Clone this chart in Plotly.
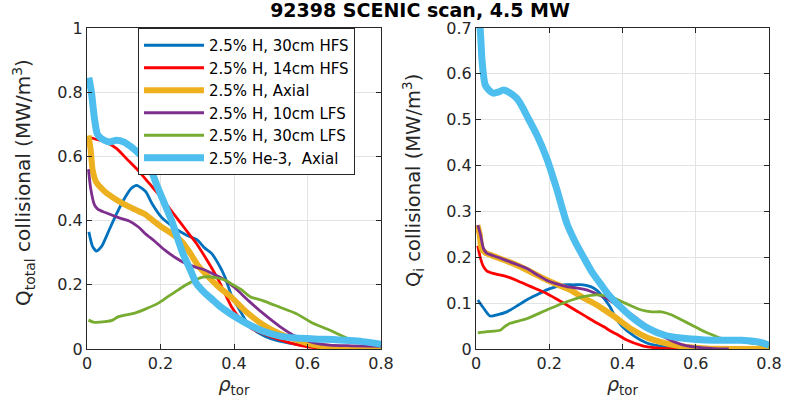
import plotly.graph_objects as go

# ---------------- data ----------------
names = ["2.5% H, 30cm HFS", "2.5% H, 14cm HFS", "2.5% H, Axial",
         "2.5% H, 10cm LFS", "2.5% H, 30cm LFS", "2.5% He-3,  Axial"]

# Left panel: Q_total collisional
rho_L_blue = [0.005, 0.015, 0.026, 0.04, 0.06, 0.08, 0.1, 0.12, 0.135, 0.16, 0.176, 0.203, 0.235, 0.27,
              0.30, 0.32, 0.339, 0.36, 0.375, 0.394, 0.416, 0.44, 0.47, 0.5, 0.55, 0.6, 0.7, 0.8]
q_L_blue = [0.365, 0.32, 0.305, 0.32, 0.37, 0.42, 0.465, 0.50, 0.51, 0.49, 0.455, 0.41, 0.38, 0.355,
            0.34, 0.315, 0.298, 0.26, 0.225, 0.165, 0.12, 0.075, 0.048, 0.032, 0.018, 0.01, 0.005, 0.003]

rho_L_red = [0.005, 0.02, 0.05, 0.08, 0.11, 0.14, 0.17, 0.2, 0.22, 0.25, 0.28, 0.3, 0.33, 0.36, 0.394,
             0.42, 0.45, 0.5, 0.55, 0.6, 0.7, 0.8]
q_L_red = [0.66, 0.655, 0.645, 0.625, 0.59, 0.555, 0.515, 0.475, 0.445, 0.40, 0.355, 0.325, 0.27, 0.21,
           0.13, 0.09, 0.062, 0.038, 0.02, 0.007, 0.001, 0.0]

rho_L_yel = [0.004, 0.01, 0.015, 0.025, 0.049, 0.08, 0.103, 0.13, 0.158, 0.18, 0.203, 0.23, 0.258, 0.28,
             0.302, 0.33, 0.357, 0.394, 0.434, 0.48, 0.52, 0.57, 0.62, 0.7, 0.8]
q_L_yel = [0.665, 0.62, 0.56, 0.52, 0.49, 0.465, 0.45, 0.435, 0.42, 0.40, 0.38, 0.36, 0.335, 0.30,
           0.26, 0.225, 0.195, 0.16, 0.115, 0.075, 0.05, 0.028, 0.012, 0.003, 0.0]

rho_L_pur = [0.004, 0.01, 0.02, 0.03, 0.05, 0.084, 0.112, 0.14, 0.158, 0.185, 0.212, 0.24, 0.267, 0.295,
             0.321, 0.35, 0.375, 0.403, 0.44, 0.48, 0.525, 0.57, 0.615, 0.66, 0.72, 0.8]
q_L_pur = [0.56, 0.5, 0.45, 0.435, 0.425, 0.41, 0.40, 0.38, 0.36, 0.335, 0.308, 0.285, 0.267, 0.255,
           0.246, 0.23, 0.215, 0.19, 0.15, 0.11, 0.07, 0.038, 0.02, 0.012, 0.01, 0.008]

rho_L_grn = [0.004, 0.02, 0.049, 0.07, 0.084, 0.1, 0.13, 0.16, 0.194, 0.22, 0.248, 0.27, 0.294, 0.315,
             0.33, 0.35, 0.375, 0.39, 0.42, 0.444, 0.48, 0.525, 0.57, 0.615, 0.66, 0.707, 0.75, 0.8]
q_L_grn = [0.09, 0.083, 0.085, 0.09, 0.10, 0.105, 0.112, 0.125, 0.143, 0.163, 0.184, 0.20, 0.215, 0.224,
           0.225, 0.222, 0.215, 0.205, 0.185, 0.163, 0.15, 0.13, 0.11, 0.08, 0.059, 0.034, 0.024, 0.015]

rho_L_cyn = [0.005, 0.012, 0.02, 0.028, 0.04, 0.06, 0.08, 0.1, 0.12, 0.14, 0.158, 0.175, 0.19, 0.21, 0.23,
             0.26, 0.28, 0.297, 0.32, 0.34, 0.365, 0.39, 0.434, 0.48, 0.525, 0.57, 0.65, 0.75, 0.8]
q_L_cyn = [0.845, 0.80, 0.72, 0.67, 0.655, 0.645, 0.65, 0.645, 0.63, 0.61, 0.59, 0.555, 0.51, 0.455, 0.40,
           0.30, 0.25, 0.205, 0.175, 0.155, 0.13, 0.11, 0.08, 0.055, 0.04, 0.034, 0.03, 0.023, 0.015]

# Right panel: Q_i collisional
rho_R_blue = [0.005, 0.02, 0.038, 0.06, 0.084, 0.11, 0.138, 0.165, 0.193, 0.215, 0.238, 0.265, 0.293,
              0.313, 0.33, 0.35, 0.366, 0.38, 0.398, 0.434, 0.47, 0.516, 0.56, 0.65, 0.75, 0.8]
q_R_blue = [0.107, 0.09, 0.072, 0.075, 0.081, 0.093, 0.107, 0.118, 0.129, 0.135, 0.14, 0.14, 0.14,
            0.136, 0.128, 0.11, 0.092, 0.07, 0.05, 0.027, 0.012, 0.005, 0.002, 0.001, 0.002, 0.001]

rho_R_red = [0.005, 0.01, 0.02, 0.03, 0.047, 0.084, 0.11, 0.138, 0.165, 0.193, 0.22, 0.248, 0.275, 0.302,
             0.325, 0.348, 0.37, 0.389, 0.41, 0.455, 0.5, 0.6, 0.7, 0.8]
q_R_red = [0.225, 0.205, 0.18, 0.17, 0.165, 0.158, 0.15, 0.14, 0.131, 0.121, 0.109, 0.096, 0.083, 0.07,
           0.059, 0.049, 0.038, 0.03, 0.02, 0.007, 0.002, 0.0, 0.001, 0.0]

rho_R_yel = [0.004, 0.01, 0.015, 0.025, 0.056, 0.09, 0.12, 0.15, 0.184, 0.22, 0.257, 0.29, 0.33, 0.36,
             0.384, 0.425, 0.47, 0.516, 0.56, 0.63, 0.7, 0.8]
q_R_yel = [0.27, 0.25, 0.22, 0.21, 0.20, 0.19, 0.18, 0.168, 0.154, 0.141, 0.129, 0.113, 0.096, 0.08,
           0.067, 0.043, 0.024, 0.013, 0.006, 0.001, 0.0, 0.0]

rho_R_pur = [0.005, 0.012, 0.02, 0.029, 0.06, 0.093, 0.138, 0.165, 0.193, 0.22, 0.248, 0.275, 0.302,
             0.33, 0.357, 0.38, 0.407, 0.44, 0.47, 0.516, 0.56, 0.6, 0.65, 0.69]
q_R_pur = [0.27, 0.25, 0.22, 0.209, 0.2, 0.19, 0.176, 0.163, 0.15, 0.142, 0.136, 0.133, 0.129,
           0.12, 0.11, 0.098, 0.085, 0.066, 0.049, 0.025, 0.01, 0.004, 0.001, 0.0]

rho_R_grn = [0.005, 0.03, 0.066, 0.08, 0.093, 0.138, 0.193, 0.248, 0.293, 0.33, 0.366, 0.407, 0.452,
             0.48, 0.507, 0.535, 0.562, 0.59, 0.616, 0.645, 0.671, 0.725, 0.78, 0.8]
q_R_grn = [0.035, 0.038, 0.041, 0.05, 0.056, 0.066, 0.085, 0.103, 0.114, 0.118, 0.114, 0.1, 0.085,
           0.081, 0.081, 0.074, 0.063, 0.052, 0.041, 0.031, 0.023, 0.016, 0.009, 0.005]

rho_R_cyn = [0.005, 0.011, 0.016, 0.02, 0.025, 0.035, 0.047, 0.06, 0.075, 0.09, 0.111, 0.125, 0.138,
             0.166, 0.193, 0.22, 0.248, 0.27, 0.293, 0.315, 0.339, 0.36, 0.384, 0.425, 0.47, 0.516,
             0.56, 0.65, 0.725, 0.78, 0.8]
q_R_cyn = [0.72, 0.70, 0.634, 0.60, 0.576, 0.565, 0.558, 0.56, 0.565, 0.56, 0.547, 0.53, 0.51,
           0.467, 0.416, 0.35, 0.274, 0.235, 0.201, 0.17, 0.143, 0.12, 0.1, 0.07, 0.045, 0.03,
           0.024, 0.019, 0.019, 0.014, 0.008]

x_ticks = [0, 0.2, 0.4, 0.6, 0.8]
yL_ticks = [0, 0.2, 0.4, 0.6, 0.8, 1]
yR_ticks = [0, 0.1, 0.2, 0.3, 0.4, 0.5, 0.6, 0.7]

title_text = "<b>92398 SCENIC scan, 4.5 MW</b>"
x_title = "<i>\u03c1</i><sub>tor</sub>"
yL_title = "Q<sub>total</sub> collisional (MW/m<sup>3</sup>)"
yR_title = "Q<sub>i</sub> collisional (MW/m<sup>3</sup>)"

# ---------------- styling ----------------
colors = ["#0072BD", "#FF0000", "#EDB120", "#7E2F8E", "#77AC30", "#4DBEEE"]
widths = [2.8, 2.8, 6, 2.8, 2.8, 7]

left = [(rho_L_blue, q_L_blue), (rho_L_red, q_L_red), (rho_L_yel, q_L_yel),
        (rho_L_pur, q_L_pur), (rho_L_grn, q_L_grn), (rho_L_cyn, q_L_cyn)]
right = [(rho_R_blue, q_R_blue), (rho_R_red, q_R_red), (rho_R_yel, q_R_yel),
         (rho_R_pur, q_R_pur), (rho_R_grn, q_R_grn), (rho_R_cyn, q_R_cyn)]

fig = go.Figure()
for i, (x, y) in enumerate(left):
    fig.add_trace(go.Scatter(x=x, y=y, mode="lines", name=names[i],
                             line=dict(color=colors[i], width=widths[i], shape="spline", smoothing=0.6),
                             xaxis="x", yaxis="y", showlegend=True))
for i, (x, y) in enumerate(right):
    fig.add_trace(go.Scatter(x=x, y=y, mode="lines", name=names[i],
                             line=dict(color=colors[i], width=widths[i], shape="spline", smoothing=0.6),
                             xaxis="x2", yaxis="y2", showlegend=False))

W, H = 805, 409
FONT = "DejaVu Sans"
TXT = "#262626"

def ax(**kw):
    d = dict(showline=True, linecolor=TXT, linewidth=1, mirror="ticks",
             ticks="inside", ticklen=5, tickcolor=TXT, tickwidth=1,
             showgrid=True, gridcolor="#e3e3e3", gridwidth=1, zeroline=False,
             tickfont=dict(family=FONT, size=16, color=TXT), automargin=False)
    d.update(kw)
    return d

ydom = [1 - 349 / H, 1 - 28 / H]
xt_font = dict(family=FONT, size=19, color=TXT)
fig.update_layout(
    width=W, height=H,
    margin=dict(l=0, r=0, t=0, b=0),
    paper_bgcolor="white", plot_bgcolor="white",
    font=dict(family=FONT, color=TXT),
    title=dict(text=title_text, x=420 / W, xanchor="center",
               y=1 - 10 / H, yanchor="middle", yref="container",
               font=dict(family=FONT, size=19, color="black")),
    xaxis=ax(domain=[87 / W, 381 / W], range=[0, 0.8], tickvals=x_ticks,
             ticktext=[f"{v:g}" for v in x_ticks], anchor="y",
             title=dict(text=x_title, font=xt_font, standoff=4)),
    yaxis=ax(domain=ydom, range=[0, 1], tickvals=yL_ticks,
             ticktext=[f"{v:g}" for v in yL_ticks], anchor="x"),
    xaxis2=ax(domain=[476 / W, 769 / W], range=[0, 0.8], tickvals=x_ticks,
              ticktext=[f"{v:g}" for v in x_ticks], anchor="y2",
              title=dict(text=x_title, font=xt_font, standoff=4)),
    yaxis2=ax(domain=ydom, range=[0, 0.7], tickvals=yR_ticks,
              ticktext=[f"{v:g}" for v in yR_ticks], anchor="x2"),
    legend=dict(x=138 / W, y=1 - 28 / H, xanchor="left", yanchor="top",
                bgcolor="white", bordercolor=TXT, borderwidth=1,
                font=dict(family=FONT, size=15, color="black"),
                itemwidth=60, tracegroupgap=0, itemclick=False),
)

# y-axis titles placed as rotated annotations (paper coordinates)
for txt, xpix, ypix, fs in [(yL_title, 23, 183, 20), (yR_title, 413, 181, 19.5)]:
    fig.add_annotation(text=txt, xref="paper", yref="paper", x=xpix / W, y=1 - ypix / H,
                       xanchor="center", yanchor="middle", textangle=-90, showarrow=False,
                       font=dict(family=FONT, size=fs, color=TXT))

fig.write_html("out.html", config={"displayModeBar": False},
               post_script="document.body.style.margin='0';document.body.style.padding='0';")
